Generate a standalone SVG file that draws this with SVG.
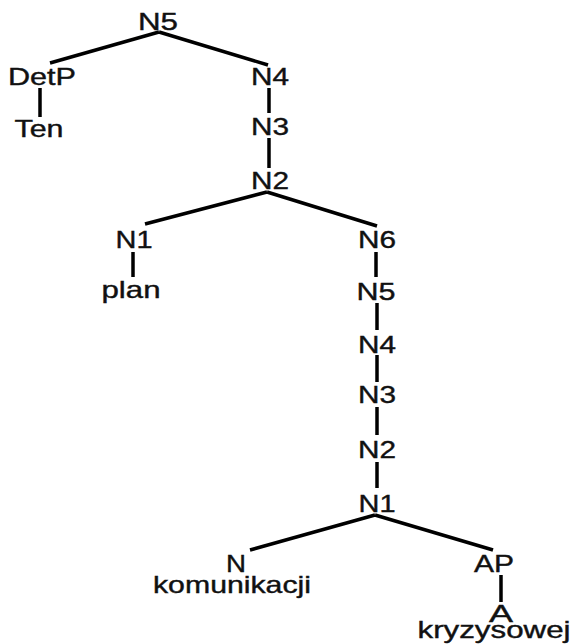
<svg xmlns="http://www.w3.org/2000/svg" width="574" height="644" viewBox="0 0 574 644">
  <style>
    .lbl { font-family: "Liberation Sans", Arial, sans-serif; font-size: 24px; fill: #111; stroke: #111; stroke-width: 0.4px; text-anchor: middle; }
    .edge { stroke: #000; stroke-width: 3.5; stroke-linecap: butt; fill: none; }
  </style>
  <rect width="574" height="644" fill="#fff"/>

  <!-- tree branches -->
  <g id="edges">
    <line class="edge" x1="159" y1="32" x2="50" y2="63"/>
    <line class="edge" x1="159" y1="32" x2="268" y2="65"/>
    <line class="edge" x1="40" y1="88" x2="40" y2="117"/>
    <line class="edge" x1="269" y1="88" x2="269" y2="113"/>
    <line class="edge" x1="269" y1="138" x2="269" y2="168"/>
    <line class="edge" x1="267" y1="192" x2="145" y2="224"/>
    <line class="edge" x1="267" y1="192" x2="377" y2="226"/>
    <line class="edge" x1="133" y1="252" x2="133" y2="277"/>
    <line class="edge" x1="376" y1="252" x2="376" y2="277"/>
    <line class="edge" x1="377" y1="303" x2="377" y2="330"/>
    <line class="edge" x1="377" y1="355" x2="377" y2="382"/>
    <line class="edge" x1="377" y1="407" x2="377" y2="435"/>
    <line class="edge" x1="377" y1="462" x2="377" y2="488"/>
    <line class="edge" x1="375" y1="515" x2="250" y2="550"/>
    <line class="edge" x1="375" y1="515" x2="493" y2="550"/>
    <line class="edge" x1="501" y1="575" x2="501" y2="602"/>
  </g>

  <!-- nodes -->
  <g id="n5-top"><text class="lbl" x="158" y="30" textLength="40" lengthAdjust="spacingAndGlyphs">N5</text></g>
  <g id="detp"><text class="lbl" x="42" y="85" textLength="68" lengthAdjust="spacingAndGlyphs">DetP</text></g>
  <g id="ten"><text class="lbl" x="39" y="137" textLength="49" lengthAdjust="spacingAndGlyphs">Ten</text></g>
  <g id="n4-a"><text class="lbl" x="270" y="85" textLength="38" lengthAdjust="spacingAndGlyphs">N4</text></g>
  <g id="n3-a"><text class="lbl" x="270" y="135" textLength="38" lengthAdjust="spacingAndGlyphs">N3</text></g>
  <g id="n2-a"><text class="lbl" x="270" y="189" textLength="38" lengthAdjust="spacingAndGlyphs">N2</text></g>
  <g id="n1-a"><text class="lbl" x="134" y="248" textLength="37" lengthAdjust="spacingAndGlyphs">N1</text></g>
  <g id="plan"><text class="lbl" x="131" y="298" textLength="59" lengthAdjust="spacingAndGlyphs">plan</text></g>
  <g id="n6"><text class="lbl" x="377" y="248" textLength="38" lengthAdjust="spacingAndGlyphs">N6</text></g>
  <g id="n5-b"><text class="lbl" x="376" y="300" textLength="39" lengthAdjust="spacingAndGlyphs">N5</text></g>
  <g id="n4-b"><text class="lbl" x="377" y="353" textLength="38" lengthAdjust="spacingAndGlyphs">N4</text></g>
  <g id="n3-b"><text class="lbl" x="377" y="403" textLength="38" lengthAdjust="spacingAndGlyphs">N3</text></g>
  <g id="n2-b"><text class="lbl" x="377" y="458" textLength="38" lengthAdjust="spacingAndGlyphs">N2</text></g>
  <g id="n1-b"><text class="lbl" x="377" y="512" textLength="37" lengthAdjust="spacingAndGlyphs">N1</text></g>
  <g id="n"><text class="lbl" x="236" y="572" textLength="20" lengthAdjust="spacingAndGlyphs">N</text></g>
  <g id="komunikacji"><text class="lbl" x="232" y="593" textLength="158" lengthAdjust="spacingAndGlyphs">komunikacji</text></g>
  <g id="ap"><text class="lbl" x="494" y="572" textLength="40" lengthAdjust="spacingAndGlyphs">AP</text></g>
  <g id="a"><text class="lbl" x="501" y="622" textLength="24" lengthAdjust="spacingAndGlyphs">A</text></g>
  <g id="kryzysowej"><text class="lbl" x="494" y="638" textLength="153" lengthAdjust="spacingAndGlyphs">kryzysowej</text></g>
</svg>
